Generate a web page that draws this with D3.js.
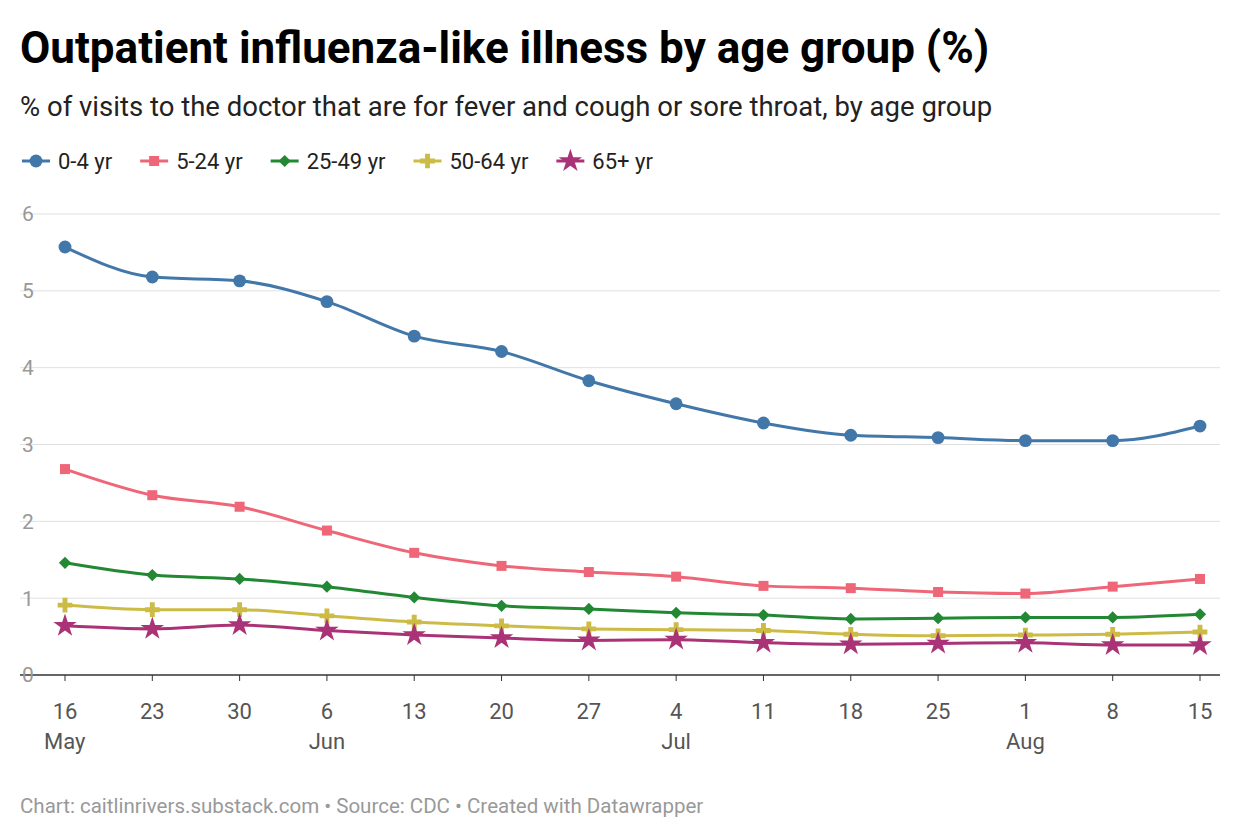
<!DOCTYPE html>
<html><head><meta charset="utf-8">
<script src="https://cdn.jsdelivr.net/npm/d3@7"></script>
<style>body{margin:0;background:#fff;font-family:Roboto,sans-serif}</style>
</head><body><svg id="c" width="1240" height="840"></svg>
<script>
const dayLabels = ["16","23","30","6","13","20","27","4","11","18","25","1","8","15"];
const monthLabels = {0:"May",3:"Jun",7:"Jul",11:"Aug"};
const yTicks = [0,1,2,3,4,5,6];
const seriesNames = ["0-4 yr","5-24 yr","25-49 yr","50-64 yr","65+ yr"];
const seriesColors = ["#4277aa","#ee6677","#228833","#ccbb44","#aa3377"];
const v0_4 = [5.57,5.18,5.13,4.86,4.41,4.21,3.83,3.53,3.28,3.12,3.09,3.05,3.05,3.24];
const v5_24 = [2.68,2.34,2.19,1.88,1.59,1.42,1.34,1.28,1.16,1.13,1.08,1.06,1.15,1.25];
const v25_49 = [1.46,1.30,1.25,1.15,1.01,0.90,0.86,0.81,0.78,0.73,0.74,0.75,0.75,0.79];
const v50_64 = [0.91,0.85,0.85,0.77,0.69,0.64,0.60,0.59,0.58,0.53,0.51,0.52,0.53,0.56];
const v65 = [0.64,0.60,0.65,0.58,0.52,0.48,0.45,0.46,0.42,0.40,0.41,0.42,0.39,0.39];
const values = [v0_4,v5_24,v25_49,v50_64,v65];
const symbols = [d3.symbolCircle,d3.symbolSquare,d3.symbolSquare,d3.symbolCross,d3.symbolStar];
const sizes = [130,100,75,120,170];
const rot = [0,0,45,0,0];

const svg = d3.select("#c");
svg.append("text").attr("x",20).attr("y",63).attr("font-size",44).attr("font-weight",700)
  .text("Outpatient influenza-like illness by age group (%)");
svg.append("text").attr("x",20).attr("y",116).attr("font-size",27.5).attr("fill","#222")
  .text("% of visits to the doctor that are for fever and cough or sore throat, by age group");

// legend
let lx = 22;
seriesNames.forEach((n,i)=>{
  const g = svg.append("g").attr("transform",`translate(${lx},161)`);
  g.append("line").attr("x1",0).attr("x2",28).attr("stroke",seriesColors[i]).attr("stroke-width",3);
  g.append("path").attr("d",d3.symbol(symbols[i],sizes[i])()).attr("transform",`translate(14,0) rotate(${rot[i]})`).attr("fill",seriesColors[i]);
  const t = g.append("text").attr("x",36).attr("y",8).attr("font-size",22).attr("fill","#222").text(n);
  lx += 36 + t.node().getComputedTextLength() + 28;
});

const x = d3.scaleLinear().domain([0,13]).range([65,1200]);
const y = d3.scaleLinear().domain([0,6]).range([675,214]);

yTicks.forEach(t=>{
  svg.append("line").attr("x1",20).attr("x2",1220).attr("y1",y(t)).attr("y2",y(t))
    .attr("stroke",t===0?"#333":"#e0e0e0").attr("stroke-width",t===0?1.5:1);
  svg.append("text").attr("x",22).attr("y",y(t)).attr("dy","0.35em").attr("font-size",21).attr("fill","#999").text(t);
});
dayLabels.forEach((d,i)=>{
  svg.append("line").attr("x1",x(i)).attr("x2",x(i)).attr("y1",675).attr("y2",681).attr("stroke","#333");
  svg.append("text").attr("x",x(i)).attr("y",719).attr("text-anchor","middle").attr("font-size",22).attr("fill","#555").text(d);
  if (monthLabels[i]) svg.append("text").attr("x",x(i)-(i===0?21:0)).attr("y",749)
    .attr("text-anchor",i===0?"start":"middle").attr("font-size",22).attr("fill","#555").text(monthLabels[i]);
});

const line = d3.line().x((d,i)=>x(i)).y(d=>y(d)).curve(d3.curveMonotoneX);
values.forEach((vals,s)=>{
  svg.append("path").attr("d",line(vals)).attr("fill","none").attr("stroke",seriesColors[s]).attr("stroke-width",3);
  svg.selectAll(null).data(vals).enter().append("path")
    .attr("d",d3.symbol(symbols[s],sizes[s])())
    .attr("transform",(d,i)=>`translate(${x(i)},${y(d)}) rotate(${rot[s]})`).attr("fill",seriesColors[s]);
});

svg.append("text").attr("x",20).attr("y",813).attr("font-size",20.5).attr("fill","#999")
  .text("Chart: caitlinrivers.substack.com • Source: CDC • Created with Datawrapper");
</script></body></html>
